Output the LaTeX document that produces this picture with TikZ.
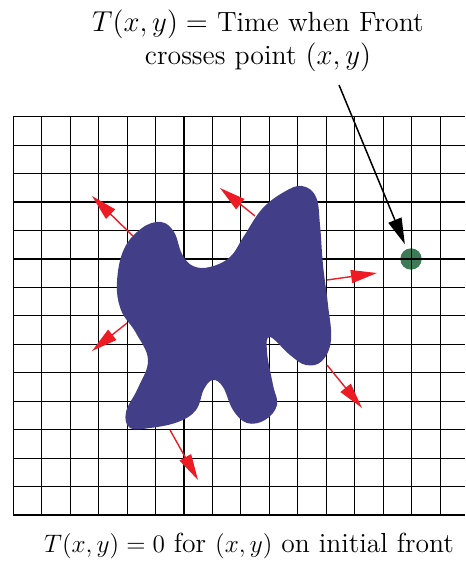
\documentclass[tikz,border=0pt]{standalone}
\usepackage{amsmath, amssymb}
\usepackage{xcolor}
\usetikzlibrary{arrows.meta}

\definecolor{frontblue}{RGB}{66,63,136}
\definecolor{ptgreen}{RGB}{62,123,86}
\definecolor{normalred}{RGB}{237,28,36}

\tikzset{
  gridline/.style={black, line width=0.55pt},
  normalarrow/.style={normalred, line width=0.7pt, -{Triangle[length=13pt, width=6.5pt]}},
  pointer/.style={black, line width=0.75pt, -{Triangle[length=13pt, width=7pt]}, shorten >=2.5pt}
}

\begin{document}
\begin{tikzpicture}[x=0.5pt, y=-0.5pt]
				\useasboundingbox (0,0) rectangle (465,571);
				
				% point where the front arrives
				\node[circle, fill=ptgreen, minimum size=10.7pt, inner sep=0pt] (pt) at (411,259) {};
				
				% mesh
				\foreach \i in {0,...,15}
					\draw[gridline] ({13.3+28.45*\i},116.7) -- ({13.3+28.45*\i},515);
				\foreach \j in {0,...,14}
					\draw[gridline] (13.3,{116.7+28.45*\j}) -- (465,{116.7+28.45*\j});
				
				% initial front
				\fill[frontblue] plot[smooth cycle, tension=0.65] coordinates {
					(117,282) (124,249) (142,228) (161,222) (174,232)
					(182,254) (193,266) (210,267) (230,257) (244,236)
					(262,209) (284,192) (302,186) (316,197) (320,225)
					(323,265) (328,305) (331,340) (322,361) (306,365)
					(290,355) (270,337) (267,352) (273,385) (277,405)
					(265,420) (247,423) (233,410) (223,387) (213,380)
					(204,389) (196,410) (178,422) (150,428) (130,428)
					(126,412) (138,388) (148,360) (136,333) (121,310)};
				
				% normals on the front
				\coordinate (n1) at (133,236); \coordinate (t1) at (92,196);
				\coordinate (n2) at (255,216); \coordinate (t2) at (220,188);
				\coordinate (n3) at (327,280); \coordinate (t3) at (377,273);
				\coordinate (n4) at (127,323); \coordinate (t4) at (92,351);
				\coordinate (n5) at (170,430); \coordinate (t5) at (198,480);
				\coordinate (n6) at (327,365); \coordinate (t6) at (362,408);
				\draw[normalarrow] (n1) -- (t1);
				\draw[normalarrow] (n2) -- (t2);
				\draw[normalarrow] (n3) -- (t3);
				\draw[normalarrow] (n4) -- (t4);
				\draw[normalarrow] (n5) -- (t5);
				\draw[normalarrow] (n6) -- (t6);
				
				% labels
				\node[font=\fontsize{13.9}{16.5}\selectfont, align=center, anchor=north, inner sep=0pt] (toplabel) at (258,10)
					{$T(x,y) =$ Time when Front\\ crosses point $(x,y)$};
				\node[font=\fontsize{13.1}{16}\selectfont, scale=1.052, transform shape, anchor=base, inner sep=0pt] (bottomlabel) at (249,552)
					{$T(x,y) = 0$ for $(x,y)$ on initial front};
				
				\coordinate (ptr) at (339,85);
				\draw[pointer] (ptr) -- (pt);
			\end{tikzpicture}
\end{document}
